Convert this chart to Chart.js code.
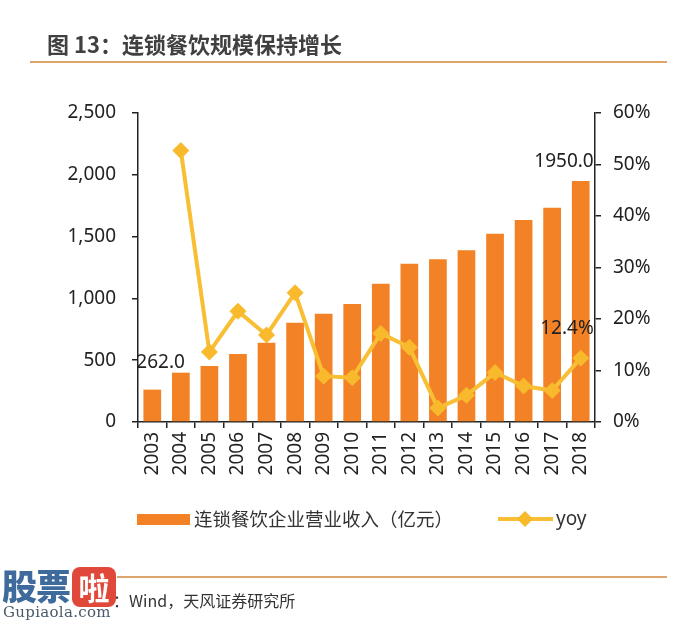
<!DOCTYPE html>
<html>
<head>
<meta charset="utf-8">
<script src="https://cdn.jsdelivr.net/npm/chart.js@4.4.1/dist/chart.umd.min.js"></script>
<style>
  html, body { margin:0; padding:0; background:#fff; }
  body { width:685px; height:626px; position:relative; overflow:hidden; font-family:"Noto Sans CJK SC","Noto Sans",sans-serif; }
  #c { position:absolute; left:0; top:0; }
  .abs { position:absolute; white-space:nowrap; }
</style>
</head>
<body>
<canvas id="c" width="685" height="626"></canvas>
<div class="abs" style="left:47px;top:27px;font-size:22px;font-weight:bold;color:#404040;">图 13：连锁餐饮规模保持增长</div>
<div class="abs" style="left:30px;top:61px;width:637px;height:2px;background:#DDA56B;"></div>

<div class="abs" style="left:137px;top:514px;width:53px;height:11px;background:#F28225;"></div>
<div class="abs" style="left:194px;top:505px;font-size:18.5px;color:#333;">连锁餐饮企业营业收入（亿元）</div>
<svg class="abs" style="left:495px;top:505px;" width="62" height="28">
  <line x1="3" y1="14" x2="58" y2="14" stroke="#F8BE34" stroke-width="4"/>
  <polygon points="30,6 38,14 30,22 22,14" fill="#F8BA2C"/>
</svg>
<div class="abs" style="left:556px;top:505px;font-size:19px;color:#333;font-family:'Noto Sans',sans-serif;">yoy</div>

<div class="abs" style="left:117px;top:576px;width:550px;height:2px;background:#DDA56B;"></div>
<div class="abs" style="left:113px;top:588px;font-size:16px;color:#333;">：Wind，天风证券研究所</div>

<div class="abs" style="left:2px;top:565px;font-size:35px;font-weight:900;color:#3F6B9C;letter-spacing:-1px;line-height:40px;">股票</div>
<div class="abs" style="left:72px;top:567px;width:44px;height:40px;background:#E0483A;border-radius:8px;color:#fff;font-size:31px;font-weight:bold;line-height:40px;text-align:center;">啦</div>
<div class="abs" style="left:3px;top:603px;font-size:15px;color:#4A5A6A;font-family:'DejaVu Serif','Liberation Serif',serif;letter-spacing:0.3px;">Gupiaola.com</div>

<script>
const years = ['2003','2004','2005','2006','2007','2008','2009','2010','2011','2012','2013','2014','2015','2016','2017','2018'];
const revenue = [262, 399, 453, 550, 642, 803, 876, 955, 1119, 1281, 1316, 1389, 1524, 1634, 1734, 1950];
const yoy = [null, 52.7, 13.6, 21.5, 16.9, 25.1, 8.9, 8.6, 17.2, 14.5, 2.7, 5.2, 9.6, 7.0, 6.1, 12.4];
const revenueTicks = [0, 500, 1000, 1500, 2000, 2500];
const yoyTicks = [0, 10, 20, 30, 40, 50, 60];

const AXIS = '#222';
const TICKFONT = { family: "'Noto Sans', sans-serif", size: 19 };

const labelPlugin = {
  id: 'pointLabels',
  afterDatasetsDraw(chart) {
    const ctx = chart.ctx;
    const barMeta = chart.getDatasetMeta(0);
    const lineMeta = chart.getDatasetMeta(1);
    ctx.save();
    ctx.font = "19px 'Noto Sans', sans-serif";
    ctx.fillStyle = '#222';
    ctx.textBaseline = 'middle';
    const first = barMeta.data[0];
    ctx.textAlign = 'left';
    ctx.fillText(revenue[0].toFixed(1), first.x - 16, first.y - 27);
    const n = revenue.length - 1;
    const last = barMeta.data[n];
    ctx.textAlign = 'right';
    ctx.fillText(revenue[n].toFixed(1), last.x + 13, last.y - 19);
    const lp = lineMeta.data[n];
    ctx.fillText(yoy[n].toFixed(1) + '%', lp.x + 13, lp.y - 30);
    ctx.restore();
  }
};

new Chart(document.getElementById('c'), {
  type: 'bar',
  data: {
    labels: years,
    datasets: [
      {
        type: 'bar',
        label: '连锁餐饮企业营业收入（亿元）',
        data: revenue,
        backgroundColor: '#F28225',
        yAxisID: 'y',
        categoryPercentage: 1,
        barPercentage: 0.62,
        order: 1
      },
      {
        type: 'line',
        label: 'yoy',
        data: yoy,
        borderColor: '#F8BE34',
        backgroundColor: '#F8BA2C',
        borderWidth: 4,
        pointStyle: 'rectRot',
        pointRadius: 8,
        pointBorderWidth: 1,
        pointBorderColor: '#F8BA2C',
        pointBackgroundColor: '#F8BA2C',
        tension: 0,
        yAxisID: 'y1',
        order: 0
      }
    ]
  },
  options: {
    responsive: false,
    animation: false,
    layout: { padding: { top: 113, left: 0, right: 0, bottom: 0 } },
    plugins: { legend: { display: false }, tooltip: { enabled: false }, title: { display: false } },
    scales: {
      x: {
        offset: true,
        grid: { offset: true, drawOnChartArea: false, drawTicks: true, tickLength: 6, color: AXIS, lineWidth: 1.5 },
        border: { color: AXIS, width: 1.5 },
        ticks: { color: '#222', font: TICKFONT, minRotation: 90, maxRotation: 90, padding: 4, autoSkip: false },
        afterFit(s) { s.height = 626 - 422; }
      },
      y: {
        position: 'left',
        min: 0, max: 2500,
        afterBuildTicks(s) { s.ticks = revenueTicks.map(v => ({ value: v })); },
        grid: { drawOnChartArea: false, drawTicks: true, tickLength: 6, color: AXIS, lineWidth: 1.5 },
        border: { color: AXIS, width: 1.5 },
        ticks: { color: '#222', font: TICKFONT, padding: 16, callback: v => v.toLocaleString('en-US') },
        afterFit(s) { s.width = 138; }
      },
      y1: {
        position: 'right',
        min: 0, max: 60,
        afterBuildTicks(s) { s.ticks = yoyTicks.map(v => ({ value: v })); },
        grid: { drawOnChartArea: false, drawTicks: true, tickLength: 6, color: AXIS, lineWidth: 1.5 },
        border: { color: AXIS, width: 1.5 },
        ticks: { color: '#222', font: TICKFONT, padding: 12, callback: v => v + '%' },
        afterFit(s) { s.width = 685 - 595; }
      }
    }
  },
  plugins: [labelPlugin]
});
</script>
</body>
</html>
